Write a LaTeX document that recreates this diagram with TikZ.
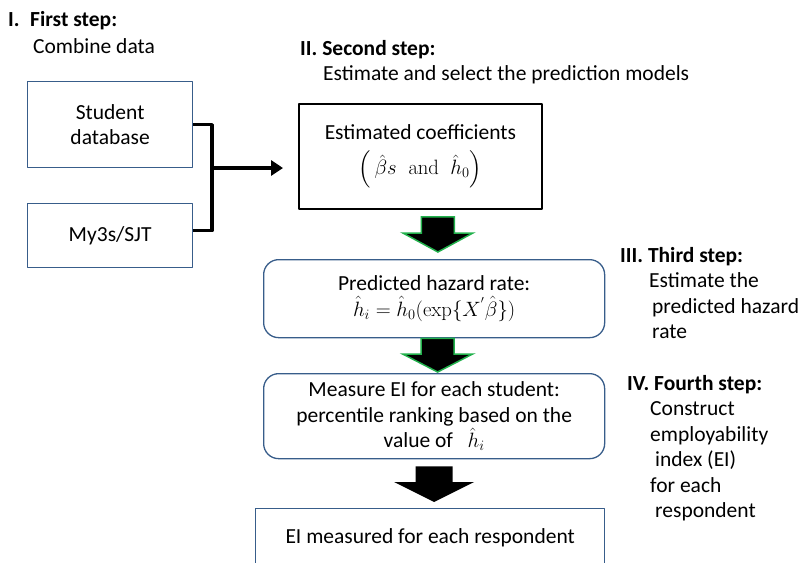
\documentclass[tikz,border=0pt]{standalone}
\usepackage{amsmath}
\usepackage[no-math]{fontspec}
\setmainfont{Carlito}
\usetikzlibrary{arrows.meta,calc}

\definecolor{boxblue}{RGB}{56,93,138}
\definecolor{arrowgreen}{RGB}{34,177,76}

\tikzset{
	databox/.style={draw=boxblue, line width=1.3pt, align=center, inner sep=0pt},
	coefbox/.style={draw=black, line width=1.8pt, align=center, inner sep=0pt},
	stepbox/.style={draw=boxblue, line width=1.3pt, rounded corners=15pt, align=center, inner sep=0pt},
	steplabel/.style={anchor=base west, inner sep=0pt},
	bracket/.style={line width=3.5pt, line cap=butt},
	greenarrow/.style={fill=black, draw=arrowgreen, line width=1.5pt, line join=miter},
	blackarrow/.style={fill=black, draw=none}
}

\begin{document}
\begin{tikzpicture}[
		x=1pt, y=-1pt,
		every node/.style={font=\fontsize{21.5}{25.5}\selectfont},
		line join=round
		]
		\useasboundingbox (0,0) rectangle (802,562);
		
		% =========================
		% Step labels
		% =========================
		\node[steplabel] (first) at (8,27)
		{\textbf{\makebox[22pt][l]{I.}First step:}};
		\node[steplabel] (firsttxt) at (33,53) {Combine data};
		
		\node[steplabel] (second) at (300,55) {\textbf{II. Second step:}};
		\node[steplabel] (secondtxt) at (323,80) {Estimate and select the prediction models};
		
		\node[steplabel] (third) at (620,262) {\textbf{III. Third step:}};
		\foreach \dx/\txt [count=\i] in {0/Estimate the, 3/predicted hazard, 3/rate}
		\node[steplabel] (third\i) at (649+\dx,262+25.5*\i) {\txt};
		
		\node[steplabel] (fourth) at (627,390) {\textbf{IV. Fourth step:}};
		\foreach \dx/\txt [count=\i] in {0/Construct, 0/employability, 5/index (EI),
			0/for each, 5/respondent}
		\node[steplabel] (fourth\i) at (650+\dx,390+25.5*\i) {\txt};
		
		% --------------------------------
		% Data boxes
		% --------------------------------
		\node[databox, anchor=north west, minimum width=165, minimum height=86]
		(student) at (27,81) {Student\\database};
		\node[databox, anchor=north west, minimum width=165, minimum height=64]
		(my3s) at (27,203) {My3s/SJT};
		
		% --------------------------------
		% Model boxes
		% --------------------------------
		\node[coefbox, anchor=north west, minimum width=243, minimum height=105]
		(coef) at (298,103)
		{Estimated coefficients\\[10pt]
			$\Bigl(\,\hat{\beta}s\;\;\mathrm{and}\;\;\hat{h}_{0}\Bigr)$};
		
		\node[stepbox, anchor=north west, minimum width=341, minimum height=78]
		(hazard) at (263,259)
		{Predicted hazard rate:\\
			$\hat{h}_{i}=\hat{h}_{0}(\exp\{X^{'}\hat{\beta}\})$};
		
		\node[stepbox, anchor=north west, minimum width=341, minimum height=85]
		(measure) at (263,373)
		{Measure EI for each student:\\
			percentile ranking based on the\\
			value of\ \ \ $\hat{h}_{i}$};
		
		\node[databox, anchor=north west, minimum width=349, minimum height=58]
		(result) at (255,508) {EI measured for each respondent};
		
		% --------------------------------
		% Bracket joining the data
		% --------------------------------
		\coordinate (join) at (212,168);
		\draw[bracket] (student.east) -| (join);
		\draw[bracket] ([yshift=5]my3s.east) -| (join);
		\draw[bracket, -{Triangle[length=12pt,width=15pt]}, shorten >=15pt]
		(join) -- (join -| coef.west);
		
		% --------------------------------
		% Block arrows between the steps
		% --------------------------------
		\foreach \from/\to/\dx/\ga/\gb/\sw/\hw/\hl/\sty in {
			coef/hazard/17.5/7/7/16.5/35/19/greenarrow,
			hazard/measure/3.5/0/1/16.5/35/18/greenarrow,
			measure/result/0/7/6/18.5/40/20/blackarrow}
		{
			\draw[\sty] let \p1=(\from.south), \p2=(\to.north),
			\n1={\x1+\dx pt}, \n2={\y1-\ga pt}, \n3={\y2+\gb pt} in
			(\n1-\sw pt,\n2) -- (\n1+\sw pt,\n2) -- (\n1+\sw pt,\n3+\hl pt)
			-- (\n1+\hw pt,\n3+\hl pt) -- (\n1,\n3) -- (\n1-\hw pt,\n3+\hl pt)
			-- (\n1-\sw pt,\n3+\hl pt) -- cycle;
		}
		
	\end{tikzpicture}
\end{document}
